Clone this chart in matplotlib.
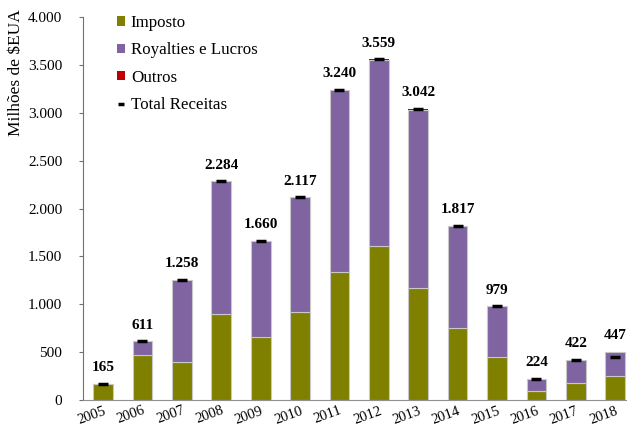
import matplotlib
matplotlib.use("Agg")
import matplotlib.pyplot as plt
from matplotlib.ticker import FuncFormatter
from matplotlib.lines import Line2D
from matplotlib.patches import Patch
import numpy as np

years = ["2005", "2006", "2007", "2008", "2009", "2010", "2011", "2012",
         "2013", "2014", "2015", "2016", "2017", "2018"]
imposto = [165, 470, 400, 893, 656, 917, 1333, 1604, 1167, 747, 445, 90, 174, 255]
outros = [0, 0, 0, 0, 0, 0, 6, 9, 9, 0, 0, 4, 9, 6]
total = [165, 611, 1258, 2284, 1660, 2117, 3240, 3559, 3042, 1817, 979, 224, 422, 447]
royalties = [0, 141, 858, 1391, 1004, 1200, 1901, 1946, 1866, 1070, 534, 130, 239, 245]
total_labels = ["165", "611", "1.258", "2.284", "1.660", "2.117", "3.240", "3.559",
                "3.042", "1.817", "979", "224", "422", "447"]

plt.rcParams['font.family'] = ['Liberation Serif', 'DejaVu Serif']

fig = plt.figure(figsize=(6.27, 4.30), dpi=100)
ax = fig.add_axes([83/627, 30/430, 1 - 83/627, 383/430])

x = np.arange(len(years))
c_imp = "#808000"
c_roy = "#8064A2"
c_out = "#C00000"
w = 0.5
imp = np.array(imposto)
roy = np.array(royalties)
out = np.array(outros)
ax.bar(x, imp, w, color=c_imp, edgecolor="#c8c8c8", linewidth=0.8, zorder=2)
ax.bar(x, roy, w, bottom=imp, color=c_roy, edgecolor="#c8c8c8", linewidth=0.8, zorder=2)
ax.bar(x, out, w, bottom=imp + roy, color=c_out, edgecolor="none", linewidth=0, zorder=3)
ax.plot(x, total, linestyle="none", marker="_", markersize=7, mew=2.5, color="black", zorder=4)

tops = np.maximum(imp + roy + out, np.array(total))
for xi, t, lab in zip(x, tops, total_labels):
    ax.annotate(lab, (xi, t), xytext=(0, 7), textcoords="offset points",
                ha="center", va="bottom", fontsize=11, fontweight="bold")

ax.set_ylim(0, 4000)
ax.set_xlim(-0.51, 13.3)
ax.set_yticks(np.arange(0, 4001, 500))
ax.yaxis.set_major_formatter(FuncFormatter(lambda v, p: f"{int(v):,}".replace(",", ".")))
ax.set_xticks(x)
ax.set_xticklabels(years, rotation=20, fontsize=10.5, ha="right", va="top",
                   rotation_mode="anchor")
ax.tick_params(axis="x", length=0, pad=3)
ax.tick_params(axis="y", direction="out", length=3, labelsize=11, pad=12, color="#707070")
for s in ["top", "right"]:
    ax.spines[s].set_visible(False)
ax.spines["left"].set_color("#707070")
ax.spines["bottom"].set_color("#909090")
ax.set_ylabel("Milhões de $EUA", fontsize=12.5)
ax.yaxis.set_label_coords(-0.108, 0.855)

handles = [Patch(facecolor=c_imp, label="Imposto"),
           Patch(facecolor=c_roy, label="Royalties e Lucros"),
           Patch(facecolor=c_out, label="Outros"),
           Line2D([], [], linestyle="none", marker="_", markersize=5, mew=2.5,
                  color="black", label="Total Receitas")]
ax.legend(handles=handles, loc="upper left", bbox_to_anchor=(0.035, 1.045),
          frameon=False, fontsize=12.2, labelspacing=0.67, handlelength=0.45,
          handleheight=0.45, handletextpad=0.35)

fig.savefig("out.png", dpi=100)
